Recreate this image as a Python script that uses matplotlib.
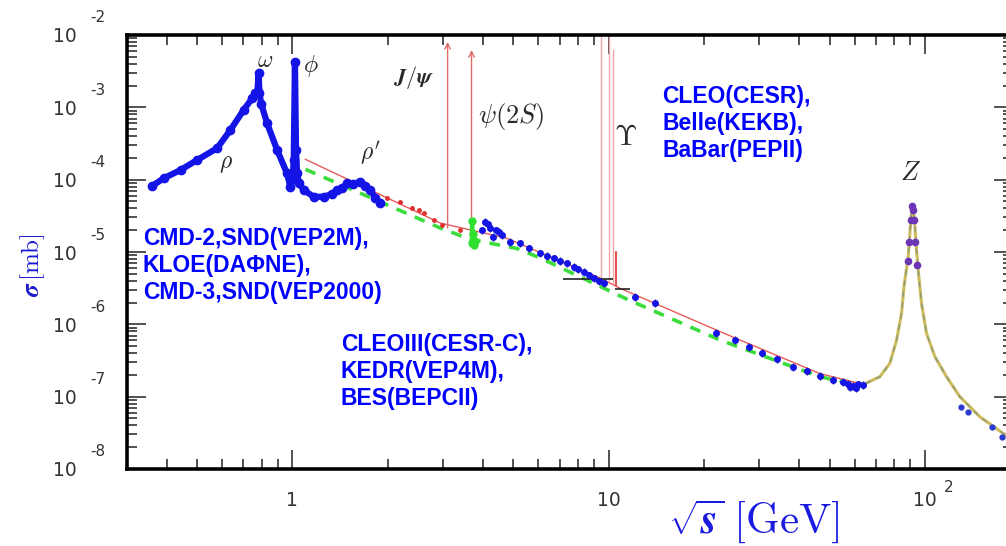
import numpy as np
import matplotlib.pyplot as plt

plt.rcParams['mathtext.fontset'] = 'cm'

# rho/omega, phi and rho' region (E in GeV, sigma in mb)
e_low = [0.360, 0.392, 0.443, 0.50, 0.578, 0.637, 0.701, 0.746, 0.764, 0.775, 0.782, 0.787,
         0.797, 0.832, 0.895, 0.962, 0.985, 1.002, 1.010, 1.019, 1.027, 1.035, 1.05, 1.086,
         1.168, 1.256, 1.33, 1.384, 1.44, 1.489, 1.56, 1.640, 1.70, 1.764, 1.83, 1.897]
sig_low = [8.18e-5, 1.045e-4, 1.36e-4, 1.87e-4, 2.72e-4, 4.86e-4, 9.18e-4, 1.33e-3, 1.56e-3,
           1.58e-3, 2.95e-3, 1.58e-3, 1.12e-3, 6.03e-4, 2.57e-4, 1.22e-4, 8.0e-5, 1.01e-4,
           1.87e-4, 4.27e-3, 2.57e-4, 1.22e-4, 8.9e-5, 7.2e-5, 5.8e-5, 5.8e-5, 6.3e-5, 7.2e-5,
           7.6e-5, 8.9e-5, 8.7e-5, 9.4e-5, 8.3e-5, 7.2e-5, 5.6e-5, 4.7e-5]

# continuum measurements above the charm threshold
e_cont = [3.97, 4.07, 4.16, 4.22, 4.32, 4.42, 4.49, 4.60, 4.88, 5.25, 5.6, 6.07, 6.4, 6.7,
          7.0, 7.38, 7.76, 8.0, 8.35, 8.7, 9.0, 9.3, 9.65, 12.1, 14.0, 21.9, 25.1, 27.7,
          30.5, 34.0, 38.4, 42.3, 46.5, 51.3, 55.1, 57.0, 58.0, 59.3, 60.5, 61.5, 63.8]
sig_cont = [2.01e-5, 2.62e-5, 2.40e-5, 2.13e-5, 1.63e-5, 2.0e-5, 1.91e-5, 1.72e-5, 1.39e-5,
            1.32e-5, 1.12e-5, 9.6e-6, 8.9e-6, 8.2e-6, 7.6e-6, 6.98e-6, 6.27e-6, 5.75e-6,
            5.35e-6, 4.79e-6, 4.33e-6, 3.98e-6, 3.69e-6, 2.42e-6, 2.0e-6, 7.66e-7, 6.07e-7,
            4.91e-7, 4.06e-7, 3.28e-7, 2.59e-7, 2.29e-7, 1.93e-7, 1.70e-7, 1.61e-7, 1.50e-7,
            1.38e-7, 1.41e-7, 1.33e-7, 1.48e-7, 1.45e-7]

# psi(2S) scan points
e_psi = [3.69, 3.70, 3.72, 3.74, 3.76, 3.79]
sig_psi = [1.32e-5, 2.69e-5, 1.78e-5, 1.38e-5, 1.26e-5, 1.41e-5]

# R measurements below the J/psi
e_rdots = [1.99, 2.19, 2.39, 2.51, 2.60, 2.80, 2.97, 3.39]
sig_rdots = [5.53e-5, 4.97e-5, 4.02e-5, 3.81e-5, 3.50e-5, 2.77e-5, 2.36e-5, 2.01e-5]

# pQCD curve and the parton-model dashed curve
e_red = [1.10, 2.94, 4.76, 9.4, 10.85, 22.5, 46.5, 65.0]
sig_red = [1.91e-4, 2.51e-5, 1.55e-5, 4.37e-6, 3.16e-6, 7.94e-7, 2.09e-7, 1.45e-7]
e_green = [1.10, 2.94, 3.65, 5.12, 6.07, 11.4, 22.5, 46.5, 65.1]
sig_green = [1.39e-4, 2.14e-5, 1.50e-5, 1.12e-5, 8.3e-6, 2.24e-6, 6.07e-7, 1.89e-7, 1.37e-7]

# Z line shape
e_z = [65.1, 72.1, 77.5, 81.4, 84.4, 85.9, 88.6, 90.3, 91.2, 92.6, 94.1, 95.7, 97.6, 101.2,
       107.6, 117.1, 129.0, 149.2, 176.8, 190.0]
sig_z = [1.53e-7, 1.89e-7, 2.89e-7, 6.07e-7, 1.42e-6, 3.32e-6, 8.6e-6, 2.77e-5, 4.27e-5,
         3.08e-5, 1.07e-5, 4.56e-6, 1.95e-6, 7.52e-7, 3.57e-7, 1.89e-7, 1.0e-7, 5.28e-8,
         3.11e-8, 2.51e-8]
e_zpts = [88.6, 89.4, 90.2, 91.2, 91.5, 92.3, 93.2, 94.3]
sig_zpts = [7.4e-6, 1.38e-5, 2.75e-5, 4.27e-5, 3.8e-5, 2.75e-5, 1.38e-5, 6.6e-6]
e_high = [130.5, 136.8, 162.5, 175.0]
sig_high = [7.26e-8, 6.19e-8, 3.85e-8, 2.80e-8]

# narrow resonances: (mass, bottom, top)
jpsi = (3.097, 2.14e-5, 8.0e-3)
psi2s = (3.686, 1.50e-5, 6.2e-3)
upsilons = [(9.46, 4.37e-6, 1.0e-2), (10.023, 4.1e-6, 1.0e-2), (10.355, 3.7e-6, 6.3e-3)]
ups4s = (10.58, 1.0e-5, 3.5e-6)

fig = plt.figure(figsize=(10.06, 5.46), dpi=100)
ax = fig.add_axes([127 / 1006, 1 - 469 / 546, (1013 - 127) / 1006, (469 - 35) / 546])
ax.set_xscale('log')
ax.set_yscale('log')
ax.set_xlim(0.3, 190)
ax.set_ylim(1e-8, 1e-2)

blue = '#1414e6'
ax.plot(e_red, sig_red, color='#e85a5a', lw=1.0, zorder=2)
ax.plot(e_green, sig_green, color='#3ddc3d', lw=2.6, ls=(0, (3, 2.5)), zorder=2)
ax.plot(e_z, sig_z, color='#cdbb5e', lw=2.2, zorder=2)
ax.plot(e_z, sig_z, color='#8c9a78', lw=1.0, ls=(0, (4, 4)), zorder=3)

ax.plot(e_rdots, sig_rdots, 'o', color='#e03030', ms=2.5, zorder=3)

# resonance sticks
for m, lo, hi in [jpsi, psi2s]:
    ax.annotate('', xy=(m, hi), xytext=(m, lo),
                arrowprops=dict(arrowstyle='->', color='#e06a6a', lw=1.0, shrinkA=0, shrinkB=0))
for m, lo, hi in upsilons:
    ax.plot([m, m], [lo, hi], color='#f0a8a8', lw=1.0, zorder=2)
ax.plot([ups4s[0]] * 2, [ups4s[1], ups4s[2]], color='#e03030', lw=1.2, zorder=3)
ax.hlines([4.23e-6, 3.05e-6], [7.2, 10.48], [10.36, 11.7], color='#222222', lw=1.2, zorder=4)

ax.plot(e_low, sig_low, '-', color=blue, lw=4.5, zorder=4, solid_capstyle='round')
ax.plot(e_low, sig_low, 'o', color=blue, ms=6, zorder=4)
ax.plot(e_psi, sig_psi, 'o-', color='#30e030', ms=5, lw=3, zorder=4)
ax.errorbar(e_cont, sig_cont, yerr=np.array(sig_cont) * 0.12, fmt='o', color=blue,
            ms=4, ecolor='#222222', elinewidth=0.9, capsize=0, zorder=5)
ax.plot(e_zpts, sig_zpts, 'o', color='#6b35b5', ms=4.5, zorder=5)
ax.plot(e_high, sig_high, 'o', color='#2a3bd0', ms=3.5, zorder=5)

# axes frame and ticks
for s in ax.spines.values():
    s.set_linewidth(2.6)
ax.tick_params(which='both', direction='in', top=True, right=True,
               labelbottom=False, labelleft=False, width=1.1, color='#222222')
ax.tick_params(which='major', length=14)
ax.tick_params(which='minor', length=7)

tick_kw = dict(textcoords='offset pixels', color='#333333', family='DejaVu Sans')
for p in range(-8, -1):
    ax.annotate('10', xy=(0, 10.0 ** p), xycoords=('axes fraction', 'data'),
                xytext=(-50, -2), ha='right', va='center', fontsize=13.5, **tick_kw)
    ax.annotate(str(p), xy=(0, 10.0 ** p), xycoords=('axes fraction', 'data'),
                xytext=(-37, 17), ha='left', va='center', fontsize=11, **tick_kw)
for v, lab in [(1, '1'), (10, '10'), (100, '10')]:
    ax.annotate(lab, xy=(v, 0), xycoords=('data', 'axes fraction'),
                xytext=(0, -31), ha='center', va='center', fontsize=13.5, **tick_kw)
ax.annotate('2', xy=(100, 0), xycoords=('data', 'axes fraction'),
            xytext=(24, -18), ha='center', va='center', fontsize=11, **tick_kw)

# particle names
gray = '#2a2a2a'
names = [(r'$\omega$', 265, 60, 17), (r'$\phi$', 311, 66, 17), (r'$\rho$', 226, 163, 17),
         (r"$\rho'$", 370, 153, 17), (r'$\boldsymbol{J/\psi}$', 414, 78, 16),
         (r'$\psi(2S)$', 511, 116, 19), (r'$\Upsilon$', 626, 137, 21), (r'$Z$', 911, 173, 19)]
for t, x, y, fs in names:
    fig.text(x / 1006, 1 - y / 546, t, ha='center', va='center', fontsize=fs, color=gray)

# experiments
groups = [(143, [245, 272, 299], ['CMD-2,SND(VEP2M),', 'KLOE(DA\u03a6NE),', 'CMD-3,SND(VEP2000)']),
          (341, [351, 378, 405], ['CLEOIII(CESR-C),', 'KEDR(VEP4M),', 'BES(BEPCII)']),
          (662, [103, 130, 157], ['CLEO(CESR),', 'Belle(KEKB),', 'BaBar(PEPII)'])]
for x, ys, lines in groups:
    for y, t in zip(ys, lines):
        fig.text(x / 1006, 1 - y / 546, t, ha='left', va='baseline', fontsize=16.5,
                 fontweight='bold', color='#0000ff', family='Liberation Sans')

fig.text(33 / 1006, 1 - 265 / 546, r'$\boldsymbol{\sigma}\,[\mathrm{mb}]$', rotation=90,
         ha='center', va='center', fontsize=18, color='#1a1ad0')
fig.text(668 / 1006, 1 - 533 / 546, r'$\sqrt{\boldsymbol{s}}\;[\mathrm{GeV}]$',
         ha='left', va='baseline', fontsize=31, color='#1a1ae0')

fig.savefig('out.png', dpi=100, facecolor='white')
